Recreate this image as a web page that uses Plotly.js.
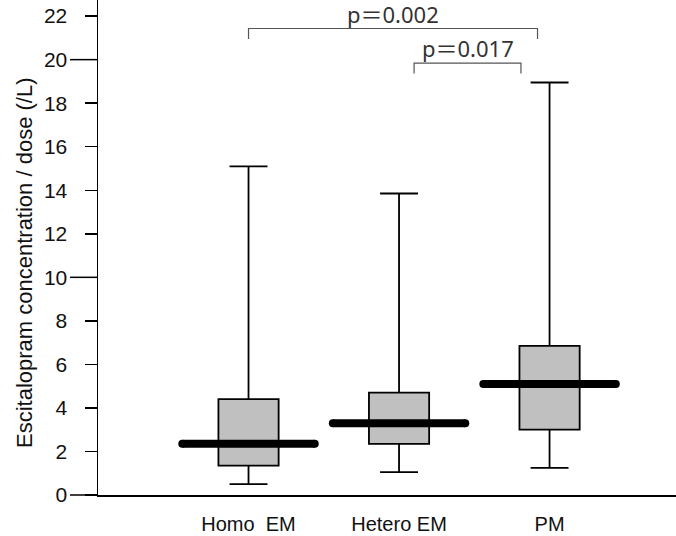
<!DOCTYPE html>
<html><head><meta charset="utf-8">
<script src="https://cdn.plot.ly/plotly-3.0.1.min.js"></script>
<style>html,body{margin:0;padding:0;background:#fff}</style>
</head><body><div id="chart" style="width:676px;height:536px"></div>
<script>
const groups = ["Homo  EM", "Hetero EM", "PM"];
const groupPos = [0, 1, 2];
const lowerWhisker = [0.5, 1.05, 1.25];
const q1 = [1.35, 2.35, 3.0];
const medians = [2.35, 3.3, 5.1];
const q3 = [4.4, 4.7, 6.85];
const upperWhisker = [15.1, 13.85, 18.95];
const yTicks = [0, 2, 4, 6, 8, 10, 12, 14, 16, 18, 20, 22];
const yLongTicks = [0, 10, 20];
const pLabels = ["p\uFF1D0.002", "p\uFF1D0.017"];
const bracketX = [[0, 1.92], [1.10, 1.81]];
const bracketY = [21.43, 19.84];
const bracketDrop = 0.48;
const yTitle = "Escitalopram concentration / dose (/L)";

const font = "'Liberation Sans', Arial, sans-serif";
const W = 676, H = 536, ML = 98, MB = 41;
const plotW = W - ML;
const yRange = [0, 22.74];
const traces = [];
traces.push({
  type: "box", x: groupPos, q1: q1, median: medians, q3: q3,
  lowerfence: lowerWhisker, upperfence: upperWhisker,
  width: 0.4, whiskerwidth: 0.63,
  fillcolor: "#c0c0c0", line: {color: "#000", width: 1.8},
  boxpoints: false, hoverinfo: "skip", showlegend: false
});
const halfMed = 0.44;
medians.forEach((m, i) => {
  traces.push({
    type: "scatter", mode: "lines+markers",
    x: [groupPos[i] - halfMed, groupPos[i] + halfMed], y: [m, m],
    line: {color: "#000", width: 8},
    marker: {color: "#000", size: 8},
    showlegend: false, hoverinfo: "skip"
  });
});
bracketX.forEach((bx, i) => {
  const by = bracketY[i];
  traces.push({
    type: "scatter", mode: "lines",
    x: [bx[0], bx[0], bx[1], bx[1]],
    y: [by - bracketDrop, by, by, by - bracketDrop],
    line: {color: "#555", width: 1.2},
    showlegend: false, hoverinfo: "skip"
  });
});

const annotations = bracketX.map((bx, i) => ({
  x: (bx[0] + bx[1]) / 2, y: bracketY[i], xref: "x", yref: "y",
  text: pLabels[i], showarrow: false, yanchor: "middle", yshift: 15,
  font: {family: "'Noto Sans', 'Noto Sans CJK JP', sans-serif", size: 22, color: "#333"}
}));
annotations.push({
  xref: "paper", yref: "paper", x: -0.126, y: 0.469,
  xanchor: "center", yanchor: "middle", textangle: -90, showarrow: false,
  text: yTitle, font: {family: font, size: 22, color: "#111"}
});

// longer tick marks at 0, 10 and 20 (axis decoration), placed in paper space
const longTickLen = 28;
const shapes = yLongTicks.map(v => {
  const yp = (v - yRange[0]) / (yRange[1] - yRange[0]);
  return {
    type: "line", xref: "paper", yref: "paper",
    x0: -longTickLen / plotW, x1: 0, y0: yp, y1: yp,
    line: {color: "#000", width: 1.5}, layer: "above"
  };
});

const layout = {
  width: W, height: H,
  margin: {l: ML, r: 0, t: 0, b: MB},
  paper_bgcolor: "#fff", plot_bgcolor: "#fff",
  showlegend: false,
  font: {family: font, color: "#111"},
  xaxis: {
    range: [-1.0, 2.84], tickvals: groupPos, ticktext: groups,
    showgrid: false, zeroline: false, showline: true,
    linecolor: "#000", linewidth: 1.5, ticks: "",
    ticklabelstandoff: 10,
    tickfont: {family: font, size: 20, color: "#111"}
  },
  yaxis: {
    range: yRange, tickmode: "array", tickvals: yTicks,
    showgrid: false, zeroline: false, showline: true,
    linecolor: "#000", linewidth: 1.5, ticks: "outside", ticklen: 12,
    tickcolor: "#000", tickwidth: 1.5, ticklabelstandoff: 13,
    tickfont: {family: font, size: 21, color: "#111"}
  },
  shapes: shapes,
  annotations: annotations
};
Plotly.newPlot("chart", traces, layout, {displayModeBar: false, staticPlot: true});
</script></body></html>
